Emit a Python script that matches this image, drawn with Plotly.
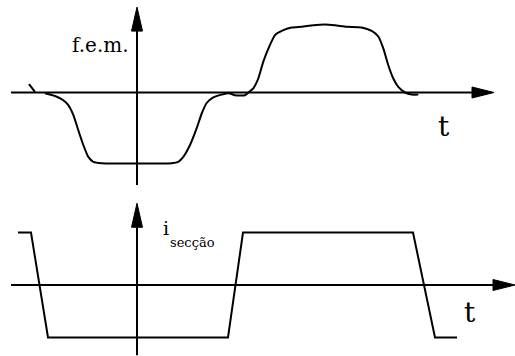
import plotly.graph_objects as go

# ---------------- data ----------------
# top panel: induced e.m.f. (f.e.m.) versus time (arbitrary units)
fem_tail_t = [-10.8, -10.2]
fem_tail_v = [0.12, 0.01]

fem_t = [-9.2, -8.2, -7.37, -6.87, -6.37, -5.87, -5.37, -4.87, -4.37, -3.53,
         3.47, 4.13, 4.63, 5.3, 5.97, 6.47, 6.97, 7.63, 8.47, 9.2,
         9.8, 10.8, 11.13, 11.63, 12.13, 12.63, 13.3, 13.8, 14.63, 15.47,
         16.47, 17.63, 18.8, 19.8, 20.97, 22.47, 23.47, 24.13, 24.63, 25.13,
         25.63, 26.13, 26.8, 27.47, 28.13]
fem_v = [-0.01, -0.05, -0.11, -0.18, -0.32, -0.54, -0.75, -0.92, -0.99, -1.01,
         -1.01, -0.99, -0.92, -0.75, -0.51, -0.30, -0.15, -0.07, -0.03, -0.01,
         -0.04, -0.04, 0.0, 0.06, 0.20, 0.44, 0.68, 0.82, 0.89, 0.93,
         0.94, 0.96, 0.97, 0.96, 0.94, 0.93, 0.88, 0.80, 0.63, 0.39,
         0.20, 0.08, 0.0, -0.03, -0.03]

# bottom panel: section current versus time
isec_t = [-11.9, -10.6, -8.9, 9.1, 10.6, 27.6, 29.8, 32.0]
isec_v = [1, 1, -1, -1, 1, 1, -1, -1]

# axis extents (data units)
t_range = [-13.7, 37.8]
top_axis_t = [-12.6, 35.7]
top_axis_v = [-1.32, 1.22]
bot_axis_t = [-12.6, 37.8]
bot_axis_v = [-1.34, 1.56]

labels = {"fem": "f.e.m.", "t": "t", "i": "i", "sub": "secção"}

# ---------------- scales ----------------
W, H = 515, 356
PX_T = (t_range[1] - t_range[0]) / W      # time units per pixel
TOP_ZERO_PX, TOP_UNIT_PX = 92.5, 70.0
BOT_ZERO_PX, BOT_UNIT_PX = 285.0, 52.4
y1_max = TOP_ZERO_PX / TOP_UNIT_PX
y1_range = [y1_max - H / TOP_UNIT_PX, y1_max]
y2_max = BOT_ZERO_PX / BOT_UNIT_PX
y2_range = [y2_max - H / BOT_UNIT_PX, y2_max]

LW = 2
HEAD_LEN = 22
HEAD_HALF = 5.5
serif = "DejaVu Serif"

fig = go.Figure()
line = dict(color="black", width=LW)
fig.add_trace(go.Scatter(x=fem_tail_t, y=fem_tail_v, mode="lines", line=line,
                         yaxis="y", hoverinfo="skip"))
fig.add_trace(go.Scatter(x=fem_t, y=fem_v, mode="lines",
                         line=dict(color="black", width=LW, shape="spline", smoothing=0.5),
                         yaxis="y", hoverinfo="skip"))
fig.add_trace(go.Scatter(x=isec_t, y=isec_v, mode="lines", line=line,
                         yaxis="y2", hoverinfo="skip"))

shapes = []


def h_axis(t0, t1, yref, unit_px):
    base = t1 - HEAD_LEN * PX_T
    hw = HEAD_HALF / unit_px
    shapes.append(dict(type="line", xref="x", yref=yref, x0=t0, x1=base, y0=0, y1=0,
                       line=dict(color="black", width=LW)))
    shapes.append(dict(type="path", xref="x", yref=yref,
                       path=f"M{t1},0 L{base},{hw} L{base},{-hw} Z",
                       fillcolor="black", line=dict(color="black", width=1)))


def v_axis(v0, v1, yref, unit_px):
    base = v1 - (HEAD_LEN + 2) / unit_px
    hw = HEAD_HALF * PX_T
    shapes.append(dict(type="line", xref="x", yref=yref, x0=0, x1=0, y0=v0, y1=base,
                       line=dict(color="black", width=LW)))
    shapes.append(dict(type="path", xref="x", yref=yref,
                       path=f"M0,{v1} L{hw},{base} L{-hw},{base} Z",
                       fillcolor="black", line=dict(color="black", width=1)))


h_axis(top_axis_t[0], top_axis_t[1], "y", TOP_UNIT_PX)
v_axis(top_axis_v[0], top_axis_v[1], "y", TOP_UNIT_PX)
h_axis(bot_axis_t[0], bot_axis_t[1], "y2", BOT_UNIT_PX)
v_axis(bot_axis_v[0], bot_axis_v[1], "y2", BOT_UNIT_PX)

annotations = [
    dict(text=labels["fem"], x=-0.6, y=(TOP_ZERO_PX - 45) / TOP_UNIT_PX, xref="x", yref="y",
         xanchor="right", yanchor="middle", showarrow=False,
         font=dict(family=serif, size=20, color="black")),
    dict(text=labels["t"], x=30.7, y=(TOP_ZERO_PX - 126) / TOP_UNIT_PX, xref="x", yref="y",
         xanchor="center", yanchor="middle", showarrow=False,
         font=dict(family=serif, size=28, color="black")),
    dict(text=labels["t"], x=33.25, y=(BOT_ZERO_PX - 312) / BOT_UNIT_PX, xref="x", yref="y2",
         xanchor="center", yanchor="middle", showarrow=False,
         font=dict(family=serif, size=28, color="black")),
    dict(text=labels["i"], x=2.4, y=(BOT_ZERO_PX - 228) / BOT_UNIT_PX, xref="x", yref="y2",
         xanchor="left", yanchor="middle", showarrow=False,
         font=dict(family=serif, size=19, color="black")),
    dict(text=labels["sub"], x=3.1, y=(BOT_ZERO_PX - 242) / BOT_UNIT_PX, xref="x", yref="y2",
         xanchor="left", yanchor="middle", showarrow=False,
         font=dict(family=serif, size=13, color="black")),
]

fig.update_layout(
    width=W, height=H,
    margin=dict(l=0, r=0, t=0, b=0, pad=0),
    paper_bgcolor="white", plot_bgcolor="white",
    showlegend=False,
    font=dict(family=serif, color="black"),
    xaxis=dict(range=t_range, visible=False, fixedrange=True),
    yaxis=dict(range=y1_range, visible=False, fixedrange=True),
    yaxis2=dict(range=y2_range, visible=False, fixedrange=True, overlaying="y"),
    shapes=shapes,
    annotations=annotations,
)

fig.write_html("out.html", config={"displayModeBar": False},
               post_script="document.body.style.margin='0px';document.body.style.overflow='hidden';")
